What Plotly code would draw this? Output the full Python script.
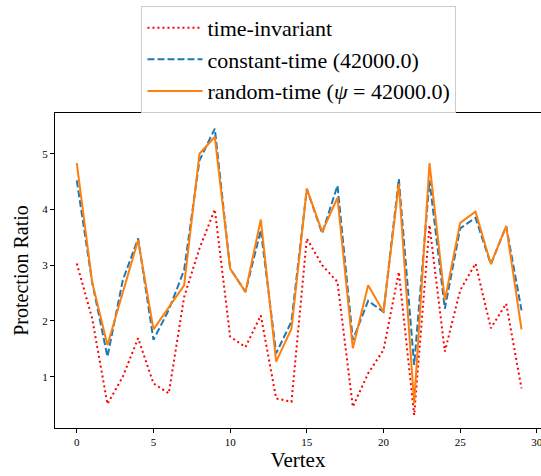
import plotly.graph_objects as go

vertices = list(range(30))
time_invariant = [3.03, 2.05, 0.51, 1.00, 1.69, 0.88, 0.70, 2.43, 3.30, 4.00,
                  1.72, 1.53, 2.10, 0.61, 0.55, 3.48, 3.00, 2.70, 0.46, 1.06,
                  1.48, 2.88, 0.31, 3.72, 1.45, 2.55, 3.03, 1.87, 2.31, 0.79]
constant_time = [4.52, 2.70, 1.36, 2.73, 3.48, 1.66, 2.20, 2.91, 4.88, 5.45,
                 2.94, 2.52, 3.63, 1.42, 1.99, 4.37, 3.57, 4.43, 1.66, 2.36,
                 2.16, 4.55, 1.21, 4.52, 2.22, 3.66, 3.85, 3.02, 3.70, 2.19]
random_time = [4.83, 2.70, 1.57, 2.50, 3.45, 1.85, 2.25, 2.64, 5.00, 5.30,
               2.94, 2.52, 3.82, 1.27, 1.86, 4.37, 3.60, 4.21, 1.51, 2.64,
               2.16, 4.46, 0.52, 4.83, 2.37, 3.76, 3.96, 3.02, 3.70, 1.85]
x_ticks = [0, 5, 10, 15, 20, 25, 30]
y_ticks = [1, 2, 3, 4, 5]

FONT = "Liberation Serif, DejaVu Serif, serif"

fig = go.Figure()
fig.add_trace(go.Scatter(x=vertices, y=time_invariant, mode="lines",
                         name="time-invariant", legendgroup="a",
                         line=dict(color="#ff0000", width=2, dash="2px,3px")))
fig.add_trace(go.Scatter(x=vertices, y=constant_time, mode="lines",
                         name="constant-time (42000.0)", legendgroup="b",
                         line=dict(color="#1f77b4", width=2, dash="7px,3px")))
fig.add_trace(go.Scatter(x=vertices, y=random_time, mode="lines",
                         name="random-time (<i>ψ</i> = 42000.0)", legendgroup="c",
                         line=dict(color="#ff7f0e", width=2)))

axis_common = dict(showgrid=False, zeroline=False, showline=True, linecolor="black",
                   linewidth=1, mirror=True, ticks="outside", ticklen=4,
                   tickcolor="black", automargin=False, ticklabeloverflow="allow",
                   tickfont=dict(family=FONT, size=11, color="black"))

fig.update_layout(
    width=541, height=476,
    margin=dict(l=55, r=0, t=113, b=48),
    paper_bgcolor="white", plot_bgcolor="white",
    font=dict(family=FONT, color="black"),
    xaxis=dict(range=[-1.42, 30.27], tickvals=x_ticks,
               title=dict(text="Vertex", font=dict(family=FONT, size=21), standoff=0),
               **axis_common),
    yaxis=dict(range=[0.08, 5.73], tickvals=y_ticks,
               title=dict(text="Protection Ratio", font=dict(family=FONT, size=20), standoff=8),
               **axis_common),
    legend=dict(x=0.502, y=1.34, xanchor="center", yanchor="top",
                font=dict(family=FONT, size=22, color="black"),
                bordercolor="#cccccc", borderwidth=1, bgcolor="white",
                itemwidth=55, tracegroupgap=0),
    showlegend=True,
)

fig.write_html("out.html", config={"displayModeBar": False},
               post_script="document.body.style.margin='0';document.body.style.overflow='hidden';")
